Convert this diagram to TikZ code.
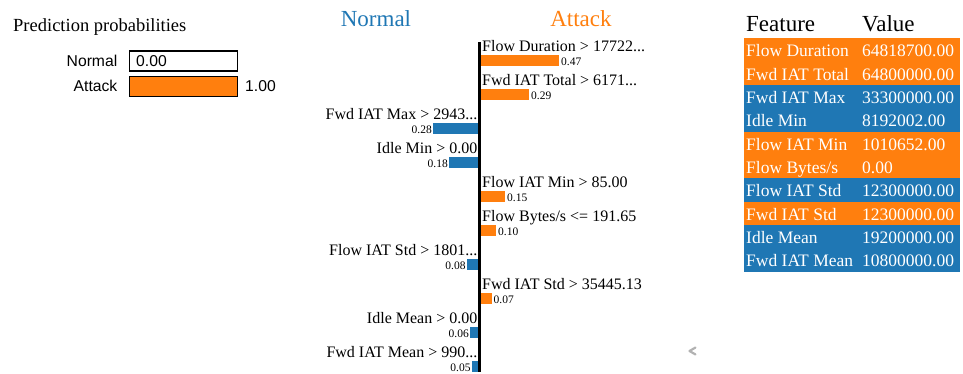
\documentclass[tikz,border=0pt]{standalone}
\usepackage{fontspec}
\setmainfont{Liberation Serif}
\newfontfamily\sansf{Liberation Sans}
\definecolor{lblue}{HTML}{1F77B4}
\definecolor{lorange}{HTML}{FF7F0E}
\tikzset{
  sanslbl/.style={font=\sansf\fontsize{15.7}{18}\selectfont, inner sep=0pt},
  probbox/.style={draw=black, line width=1.1pt, minimum width=108pt, minimum height=20pt, anchor=north west, inner sep=0pt},
  headtxt/.style={font=\fontsize{23}{26}\selectfont, inner sep=0pt, anchor=base},
  barlabR/.style={font=\fontsize{16}{18}\selectfont, inner sep=0pt, anchor=base west},
  barlabL/.style={font=\fontsize{16}{18}\selectfont, inner sep=0pt, anchor=base east},
  barvalR/.style={font=\fontsize{11.5}{13}\selectfont, inner sep=0pt, anchor=base west},
  barvalL/.style={font=\fontsize{11.5}{13}\selectfont, inner sep=0pt, anchor=base east},
  obar/.style={fill=lorange},
  bbar/.style={fill=lblue},
  cell/.style={font=\fontsize{17.5}{20}\selectfont, text=white, inner sep=0pt, anchor=base west},
}
\begin{document}
\begin{tikzpicture}[x=1pt,y=-1pt]
\useasboundingbox (0,0) rectangle (963,374);

% ---------- left panel ----------
\node[anchor=base west, inner sep=0pt, font=\fontsize{18.5}{21}\selectfont] (ptitle) at (13,32) {Prediction probabilities};
\node[sanslbl, anchor=base east] (pnl) at (117.5,66.7) {Normal};
\node[probbox] (pnbox) at (129.3,50.5) {};
\node[sanslbl, anchor=base west] (pnv) at (136,66.7) {0.00};
\node[sanslbl, anchor=base east] (pal) at (117.5,91.7) {Attack};
\node[probbox, fill=lorange] (pabox) at (129.3,76) {};
\node[sanslbl, anchor=base west] (pav) at (245,91.7) {1.00};

% ---------- middle panel ----------
\node[headtxt, text=lblue] (hnorm) at (376,27) {Normal};
\node[headtxt, text=lorange] (hatt) at (581,27) {Attack};

\coordinate (axtop) at (479.5,42);
\coordinate (axbot) at (479.5,372);

% bars
\fill[obar] (481,55) rectangle (559,66.3);
\node[barlabR] (l1) at (482,51.7) {Flow Duration > 17722...};
\node[barvalR] (v1) at (561,65.5) {0.47};

\fill[obar] (481,89) rectangle (529,100.3);
\node[barlabR] (l2) at (482,85.7) {Fwd IAT Total > 6171...};
\node[barvalR] (v2) at (531,99.5) {0.29};

\fill[bbar] (433,123) rectangle (478,134.3);
\node[barlabL] (l3) at (477.5,119.7) {Fwd IAT Max > 2943...};
\node[barvalL] (v3) at (432,133.5) {0.28};

\fill[bbar] (449,157) rectangle (478,168.3);
\node[barlabL] (l4) at (477.5,153.7) {Idle Min > 0.00};
\node[barvalL] (v4) at (448,167.5) {0.18};

\fill[obar] (481,191) rectangle (505,202.3);
\node[barlabR] (l5) at (482,187.7) {Flow IAT Min > 85.00};
\node[barvalR] (v5) at (507,201.5) {0.15};

\fill[obar] (481,225) rectangle (496,236.3);
\node[barlabR] (l6) at (482,221.7) {Flow Bytes/s <= 191.65};
\node[barvalR] (v6) at (498,235.5) {0.10};

\fill[bbar] (466.7,259) rectangle (478,270.3);
\node[barlabL] (l7) at (477.5,255.7) {Flow IAT Std > 1801...};
\node[barvalL] (v7) at (465.7,269.5) {0.08};

\fill[obar] (481,293) rectangle (491.7,304.3);
\node[barlabR] (l8) at (482,289.7) {Fwd IAT Std > 35445.13};
\node[barvalR] (v8) at (493.5,303.5) {0.07};

\fill[bbar] (470,327) rectangle (478,338.3);
\node[barlabL] (l9) at (477.5,323.7) {Idle Mean > 0.00};
\node[barvalL] (v9) at (469,337.5) {0.06};

\fill[bbar] (471.7,361) rectangle (478,372.3);
\node[barlabL] (l10) at (477.5,357.7) {Fwd IAT Mean > 990...};
\node[barvalL] (v10) at (470.7,371.5) {0.05};

\draw[line width=2.5pt] (axtop) -- (axbot);

% ---------- right table ----------
\node[headtxt, anchor=base west] (thf) at (746,31.7) {Feature};
\node[headtxt, anchor=base west] (thv) at (862,31.7) {Value};

\fill[lorange] (744,38.3)  rectangle (960,61.64);
\fill[lorange] (744,61.64) rectangle (960,84.98);
\fill[lblue]   (744,84.98) rectangle (960,108.32);
\fill[lblue]   (744,108.32) rectangle (960,131.66);
\fill[lorange] (744,131.66) rectangle (960,155);
\fill[lorange] (744,155)   rectangle (960,178.34);
\fill[lblue]   (744,178.34) rectangle (960,201.68);
\fill[lorange] (744,201.68) rectangle (960,225.02);
\fill[lblue]   (744,225.02) rectangle (960,248.36);
\fill[lblue]   (744,248.36) rectangle (960,271.7);

\node[cell] (f1) at (746,56.7) {Flow Duration};
\node[cell] (w1) at (862,56.7) {64818700.00};
\node[cell] (f2) at (746,80.04) {Fwd IAT Total};
\node[cell] (w2) at (862,80.04) {64800000.00};
\node[cell] (f3) at (746,103.38) {Fwd IAT Max};
\node[cell] (w3) at (862,103.38) {33300000.00};
\node[cell] (f4) at (746,126.72) {Idle Min};
\node[cell] (w4) at (862,126.72) {8192002.00};
\node[cell] (f5) at (746,150.06) {Flow IAT Min};
\node[cell] (w5) at (862,150.06) {1010652.00};
\node[cell] (f6) at (746,173.4) {Flow Bytes/s};
\node[cell] (w6) at (862,173.4) {0.00};
\node[cell] (f7) at (746,196.74) {Flow IAT Std};
\node[cell] (w7) at (862,196.74) {12300000.00};
\node[cell] (f8) at (746,220.08) {Fwd IAT Std};
\node[cell] (w8) at (862,220.08) {12300000.00};
\node[cell] (f9) at (746,243.42) {Idle Mean};
\node[cell] (w9) at (862,243.42) {19200000.00};
\node[cell] (f10) at (746,266.76) {Fwd IAT Mean};
\node[cell] (w10) at (862,266.76) {10800000.00};

% ---------- chevron ----------
\draw[black!30, line width=2.2pt, line cap=round, line join=round] (695.5,347.5) -- (689.5,351) -- (695.5,354.5);
\end{tikzpicture}
\end{document}
